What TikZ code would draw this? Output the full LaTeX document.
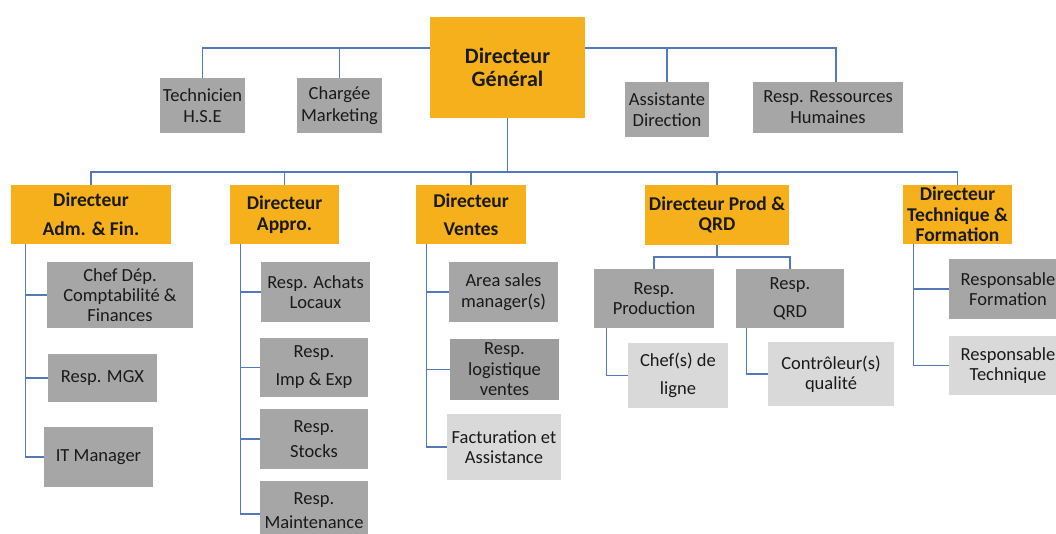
\documentclass[tikz,border=0pt]{standalone}
\usepackage{fontspec}
\setmainfont{Carlito}
\definecolor{orangebox}{HTML}{F6B01C}
\definecolor{greybox}{HTML}{A6A6A6}
\definecolor{darkgreybox}{HTML}{9D9D9D}
\definecolor{lightbox}{HTML}{D9D9D9}
\definecolor{linkc}{HTML}{5479B8}
\definecolor{txt}{HTML}{1A1A1A}
\begin{document}
\begin{tikzpicture}[x=1pt,y=-1pt,
  base/.style={draw=none,align=center,text=txt,inner sep=0pt,anchor=center},
  dirbox/.style={base,fill=orangebox},
  gbox/.style={base,fill=greybox},
  dgbox/.style={base,fill=darkgreybox},
  lbox/.style={base,fill=lightbox},
  wh/.style 2 args={minimum width=#1,minimum height=#2},
  nf/.style={font=\fontsize{18.5}{#1}\selectfont},
  bf/.style={font=\bfseries\fontsize{19.5}{#1}\selectfont},
  conn/.style={draw=linkc,line width=1.1pt}]
\useasboundingbox (0,0) rectangle (1056,534);
\clip (0,0) rectangle (1056,534);
\fill[white] (0,0) rectangle (1056,534);

% top level
\node[dirbox,wh={155}{101},font=\bfseries\fontsize{22}{23}\selectfont] (dg) at (507.5,67.5) {Directeur\\Général};
\node[gbox,wh={85}{55},nf=21.5] (tech) at (202.5,105.5) {Technicien\\H.S.E};
\node[gbox,wh={85}{55},nf=21.5] (mkt) at (339.5,105.5) {Chargée\\Marketing};
\node[gbox,wh={84}{55},nf=21] (asst) at (667,109.5) {Assistante\\Direction};
\node[gbox,wh={150}{51},nf=21] (rh) at (828,107.5) {Resp. Ressources\\Humaines};

% directors
\node[dirbox,wh={160}{59},bf=29] (adm) at (91,214.5) {Directeur\\Adm. \& Fin.};
\node[dirbox,wh={109}{59},bf=21] (appro) at (284.5,214.5) {Directeur\\Appro.};
\node[dirbox,wh={110}{59},bf=28] (ventes) at (471,214.5) {Directeur\\Ventes};
\node[dirbox,wh={144}{60},bf=20] (prod) at (717,215) {Directeur Prod \&\\QRD};
\node[dirbox,wh={109}{59},bf=20.5] (tf) at (957.5,214.5) {Directeur\\Technique \&\\Formation};

% Adm column
\node[gbox,wh={146}{66},nf=20] (chef) at (120,295) {Chef Dép.\\Comptabilité \&\\Finances};
\node[gbox,wh={109}{48},nf=20] (mgx) at (102.5,378) {Resp. MGX};
\node[gbox,wh={109}{60},nf=20] (itm) at (98.5,457) {IT Manager};

% Appro column
\node[gbox,wh={109}{60},nf=20.6] (achats) at (315.5,292) {Resp. Achats\\Locaux};
\node[gbox,wh={108}{59},nf=28] (impexp) at (314,367.5) {Resp.\\Imp \& Exp};
\node[gbox,wh={108}{60},nf=25] (stocks) at (314,439) {Resp.\\Stocks};
\node[gbox,wh={108}{61},nf=24] (maint) at (314,511) {Resp.\\Maintenance};

% Ventes column
\node[gbox,wh={109}{60},nf=20.5] (area) at (503.5,292) {Area sales\\manager(s)};
\node[dgbox,wh={109}{61},nf=20.5] (logi) at (504.5,369.5) {Resp.\\logistique\\ventes};
\node[lbox,wh={114}{66},nf=20] (fact) at (504,447) {Facturation et\\Assistance};

% Prod column
\node[gbox,wh={120}{59},nf=20] (rprod) at (654,298.5) {Resp.\\Production};
\node[gbox,wh={108}{59},nf=28] (rqrd) at (790,298.5) {Resp.\\QRD};
\node[lbox,wh={100}{65},nf=28] (chefl) at (678,375.5) {Chef(s) de\\ligne};
\node[lbox,wh={126}{64},nf=19.5] (ctrl) at (831,374) {Contrôleur(s)\\qualité};

% Technique column
\node[gbox,wh={118}{60},nf=20] (rform) at (1008,289) {Responsable\\Formation};
\node[lbox,wh={118}{59},nf=19.5] (rtech) at (1008,365.5) {Responsable\\Technique};

% buses
\coordinate (busTop) at (0,48);
\coordinate (busMid) at (0,172);
\coordinate (busPQ) at (0,257);

% top connectors
\draw[conn] (tech.north) |- (busTop -| dg.west);
\draw[conn] (mkt.north) -- (mkt.north |- busTop);
\draw[conn] (busTop -| dg.east) -| ([xshift=8pt]rh.north);
\draw[conn] (asst.north) -- (asst.north |- busTop);

% middle connectors
\draw[conn] (dg.south) -- (dg.south |- busMid);
\draw[conn] (adm.north) |- (busMid -| tf.north) -- (tf.north);
\draw[conn] (appro.north) -- (appro.north |- busMid);
\draw[conn] (ventes.north) -- (ventes.north |- busMid);
\draw[conn] (prod.north) -- (prod.north |- busMid);

% Adm sub
\coordinate (admL) at ([xshift=15pt]adm.south west);
\draw[conn] (admL) |- (itm.west);
\draw[conn] (chef.west) -- (chef.west -| admL);
\draw[conn] (mgx.west) -- (mgx.west -| admL);

% Appro sub
\coordinate (apL) at ([xshift=11pt]appro.south west);
\draw[conn] (apL) |- ([yshift=-3pt]maint.west);
\draw[conn] (achats.west) -- (achats.west -| apL);
\draw[conn] (impexp.west) -- (impexp.west -| apL);
\draw[conn] (stocks.west) -- (stocks.west -| apL);

% Ventes sub
\coordinate (veL) at ([xshift=11pt]ventes.south west);
\draw[conn] (veL) |- (fact.west);
\draw[conn] (area.west) -- (area.west -| veL);
\draw[conn] (logi.west) -- (logi.west -| veL);

% Prod sub
\draw[conn] (prod.south) -- (prod.south |- busPQ);
\draw[conn] (rprod.north) |- (busPQ -| rqrd.north) -- (rqrd.north);
\draw[conn] ([xshift=13pt]rprod.south west) |- (chefl.west);
\draw[conn] ([xshift=11pt]rqrd.south west) |- (ctrl.west);

% Technique sub
\coordinate (tfL) at ([xshift=11pt]tf.south west);
\draw[conn] (tfL) |- (rtech.west);
\draw[conn] (rform.west) -- (rform.west -| tfL);
\end{tikzpicture}
\end{document}
